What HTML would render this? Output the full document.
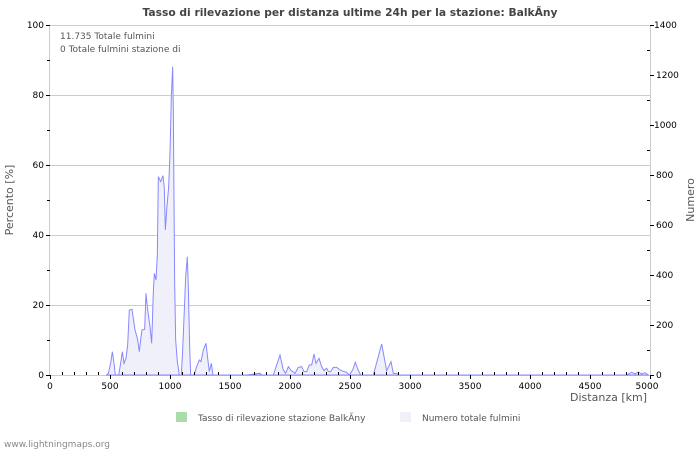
<!DOCTYPE html>
<html><head><meta charset="utf-8"><style>
body{margin:0;background:#fff}
svg text{font-family:"DejaVu Sans","Liberation Sans",sans-serif}
</style></head><body>
<svg width="700" height="450" viewBox="0 0 700 450" xmlns="http://www.w3.org/2000/svg">
<rect width="700" height="450" fill="#fff"/>
<text x="350" y="16" font-size="10.7" font-weight="bold" fill="#444" text-anchor="middle">Tasso di rilevazione per distanza ultime 24h per la stazione: BalkÃ­ny</text>
<g stroke="#ccc" stroke-width="1">
<line x1="50" y1="25.5" x2="650" y2="25.5"/>
<line x1="50" y1="95.5" x2="650" y2="95.5"/>
<line x1="50" y1="165.5" x2="650" y2="165.5"/>
<line x1="50" y1="235.5" x2="650" y2="235.5"/>
<line x1="50" y1="305.5" x2="650" y2="305.5"/>
<line x1="49.5" y1="25" x2="49.5" y2="375"/>
<line x1="650.5" y1="25" x2="650.5" y2="375"/>
<line x1="50" y1="375.5" x2="650" y2="375.5"/>
</g>
<g transform="translate(40,50) scale(0.33333)">
<polygon fill="#f0f0fb" stroke="#8888ff" stroke-width="1" vector-effect="non-scaling-stroke" points="200,975 205,970 212,940 217,905 222,940 226,975 236,975 242,940 247,905 252,940 258,925 263,885 268,780 276,778 285,840 292,865 298,905 303,860 306,840 314,838 318,730 323,780 330,830 335,880 340,725 343,670 348,690 352,615 355,380 362,395 369,377 373,415 376,540 380,480 386,410 390,310 394,140 398,50 400,185 402,450 404,700 407,870 412,935 418,975 424,975 428,900 433,780 437,680 442,620 445,715 449,890 452,975 462,975 470,950 478,930 483,935 490,900 498,880 503,925 508,965 514,940 519,975 530,975 620,975 660,970 665,975 700,975 720,915 730,960 737,970 745,950 752,960 765,970 775,952 785,950 792,965 800,965 808,945 815,945 822,912 828,940 837,925 845,950 852,962 860,955 865,965 872,965 880,952 890,952 900,960 912,965 920,967 928,975 938,960 946,937 955,962 962,975 1000,975 1025,882 1040,962 1053,935 1060,970 1070,970 1075,975 1760,975 1775,967 1785,972 1795,966 1805,972 1815,968 1825,975"/>
</g>
<g stroke="#000" stroke-width="1">
<path d="M50.5 375v4M110.5 375v4M170.5 375v4M230.5 375v4M290.5 375v4M350.5 375v4M410.5 375v4M470.5 375v4M530.5 375v4M590.5 375v4M650.5 375v4"/>
<path d="M62.5 375v-3M74.5 375v-3M86.5 375v-3M98.5 375v-3M122.5 375v-3M134.5 375v-3M146.5 375v-3M158.5 375v-3M182.5 375v-3M194.5 375v-3M206.5 375v-3M218.5 375v-3M242.5 375v-3M254.5 375v-3M266.5 375v-3M278.5 375v-3M302.5 375v-3M314.5 375v-3M326.5 375v-3M338.5 375v-3M362.5 375v-3M374.5 375v-3M386.5 375v-3M398.5 375v-3M422.5 375v-3M434.5 375v-3M446.5 375v-3M458.5 375v-3M482.5 375v-3M494.5 375v-3M506.5 375v-3M518.5 375v-3M542.5 375v-3M554.5 375v-3M566.5 375v-3M578.5 375v-3M602.5 375v-3M614.5 375v-3M626.5 375v-3M638.5 375v-3"/>
<path d="M46 25.5h4M46 95.5h4M46 165.5h4M46 235.5h4M46 305.5h4M46 375.5h4M47 60.5h3M47 130.5h3M47 200.5h3M47 270.5h3M47 340.5h3"/>
<path d="M650 25.5h4M650 75.5h4M650 125.5h4M650 175.5h4M650 225.5h4M650 275.5h4M650 325.5h4M650 375.5h4M650 50.5h-3M650 100.5h-3M650 150.5h-3M650 200.5h-3M650 250.5h-3M650 300.5h-3M650 350.5h-3"/>
</g>
<g font-size="9" fill="#000" text-anchor="end">
<text x="44" y="28">100</text><text x="44" y="98">80</text><text x="44" y="168">60</text><text x="44" y="238">40</text><text x="44" y="308">20</text><text x="44" y="378">0</text>
</g>
<g font-size="9" fill="#000">
<text x="654" y="28">1400</text><text x="654" y="128">1000</text><text x="656" y="78">1200</text><text x="656" y="178">800</text><text x="656" y="228">600</text><text x="656" y="278">400</text><text x="656" y="328">200</text><text x="656" y="378">0</text>
</g>
<g font-size="9" fill="#000" text-anchor="middle">
<text x="50" y="389">0</text><text x="110" y="389">500</text><text x="170" y="389">1000</text><text x="230" y="389">1500</text><text x="290" y="389">2000</text><text x="350" y="389">2500</text><text x="410" y="389">3000</text><text x="470" y="389">3500</text><text x="530" y="389">4000</text><text x="590" y="389">4500</text><text x="647" y="389">5000</text>
</g>
<text x="647" y="401" font-size="11" fill="#555" text-anchor="end">Distanza   [km]</text>
<text transform="translate(13,200) rotate(-90)" font-size="11" fill="#555" text-anchor="middle">Percento   [%]</text>
<text transform="translate(694,200) rotate(-90)" font-size="11" fill="#555" text-anchor="middle">Numero</text>
<text x="60" y="39" font-size="9" fill="#555">11.735 Totale fulmini</text>
<text x="60" y="52" font-size="9" fill="#555">0 Totale fulmini stazione di</text>
<rect x="176" y="412" width="11" height="10" fill="#aaddaa"/>
<text x="198" y="421" font-size="9" fill="#555">Tasso di rilevazione stazione BalkÃ­ny</text>
<rect x="400" y="412" width="11" height="10" fill="#f0f0fb"/>
<text x="422" y="421" font-size="9" fill="#555">Numero totale fulmini</text>
<text x="4" y="447" font-size="9" fill="#888">www.lightningmaps.org</text>
</svg>
</body></html>
